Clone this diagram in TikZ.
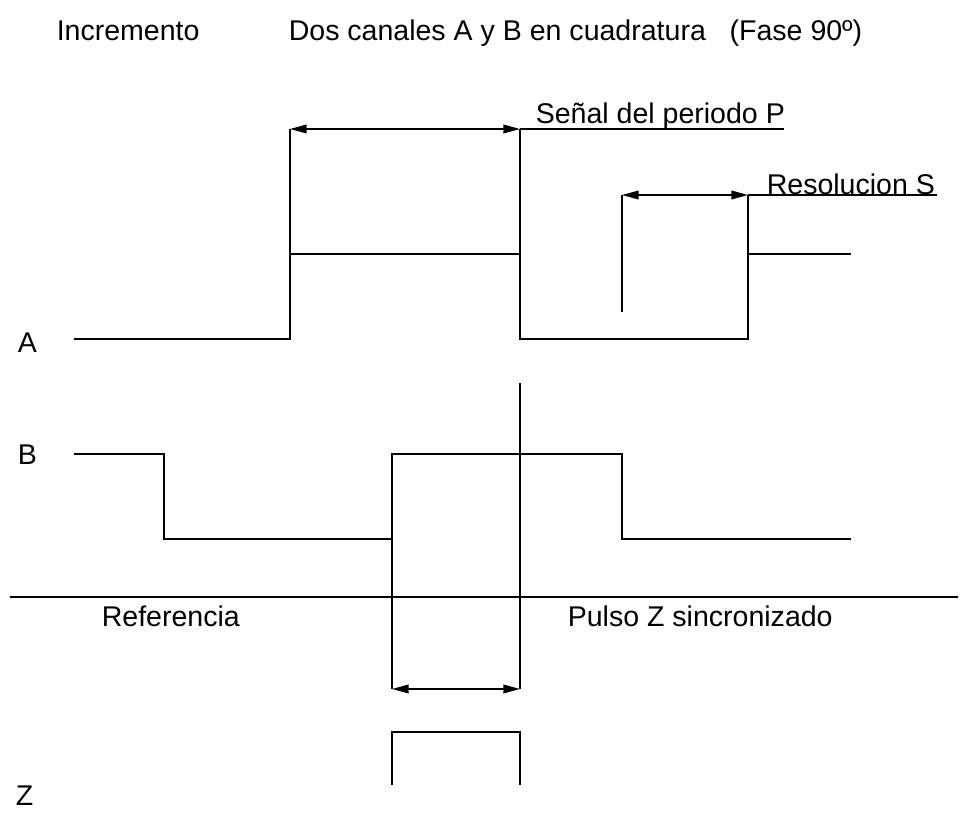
\documentclass[tikz,border=0pt]{standalone}
\usepackage{fontspec}
\setmainfont{Liberation Sans}
\usetikzlibrary{arrows.meta}

\begin{document}
\begin{tikzpicture}[x=0.75pt,y=-0.75pt,>={Triangle[length=12.5pt,width=6.5pt]},line width=1.2pt,
                    every node/.style={font=\fontsize{21.4}{25}\selectfont,inner sep=0pt,anchor=base west}]
  \tikzstyle{dim}=[<->,shorten >=0pt,shorten <=0pt]
  \useasboundingbox (0,0) rectangle (960,813);

  % titulos
  \node (T1) at (56,41)    {Incremento};
  \node (T2) at (288,41)   {Dos canales A y B en cuadratura~~~(Fase 90º)};
  \node (P)  at (535,124)  {Señal del periodo P};
  \node (S)  at (766,195)  {Resolucion S};
  \node (A)  at (17,352)   {A};
  \node (B)  at (17,464)   {B};
  \node (Z)  at (15,805)   {Z};
  \node (R)  at (101,626)  {Referencia};
  \node (Q)  at (567,626)  {Pulso Z sincronizado};

  % canal A
  \coordinate (a0) at (74,339);
  \coordinate (a1) at (290,339);
  \coordinate (a2) at (290,254);
  \coordinate (a3) at (520,254);
  \coordinate (a4) at (520,339);
  \coordinate (a5) at (748,339);
  \coordinate (a6) at (748,254);
  \coordinate (a7) at (851,254);
  \draw (a0) -- (a1) -- (a2) -- (a3) -- (a4) -- (a5) -- (a6) -- (a7);

  % canal B
  \coordinate (b0) at (74,454);
  \coordinate (b1) at (164,454);
  \coordinate (b2) at (164,539);
  \coordinate (b3) at (392,539);
  \coordinate (b4) at (392,454);
  \coordinate (b5) at (622,454);
  \coordinate (b6) at (622,539);
  \coordinate (b7) at (851,539);
  \draw (b0) -- (b1) -- (b2) -- (b3) -- (b4) -- (b5) -- (b6) -- (b7);

  % canal Z
  \coordinate (z0) at (392,785);
  \coordinate (z1) at (392,732);
  \coordinate (z2) at (520,732);
  \coordinate (z3) at (520,785);
  \draw (z0) -- (z1) -- (z2) -- (z3);

  % cotas
  \coordinate (p0) at (290,129);
  \coordinate (p1) at (520,129);
  \coordinate (p2) at (784,129);
  \coordinate (s0) at (622,195);
  \coordinate (s1) at (748,195);
  \coordinate (s2) at (937,195);
  \coordinate (s3) at (622,312);
  \coordinate (r0) at (392,689);
  \coordinate (r1) at (520,689);
  \coordinate (r2) at (520,383);
  \coordinate (h0) at (10,597);
  \coordinate (h1) at (958,597);

  \path (a2) edge (p0)
        (a3) edge (p1)
        (p1) edge (p2)
        (s3) edge (s0)
        (a6) edge (s1)
        (s1) edge (s2)
        (b4) edge (r0)
        (r2) edge (r1)
        (h0) edge (h1);
  \path (p0) edge[dim] (p1)
        (s0) edge[dim] (s1)
        (r0) edge[dim] (r1);
\end{tikzpicture}
\end{document}
